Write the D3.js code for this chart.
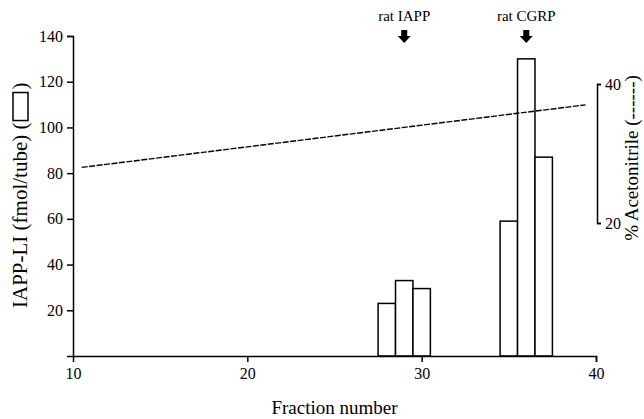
<!DOCTYPE html>
<html>
<head>
<meta charset="utf-8">
<script src="https://cdn.jsdelivr.net/npm/d3@7"></script>
<style>
	body {margin:0; background:#fff;}
	svg {display:block; font-family:"Liberation Serif","Times New Roman",serif;}
	.axis path, .axis line {stroke:#000; stroke-width:1.5;}
	.axis text {font-family:"Liberation Serif","Times New Roman",serif; font-size:16px; fill:#000;}
</style>
</head>
<body>
<div id="idChart"></div>
<script>
// fractions with measurable IAPP-LI, and the amount in each tube
var aFractions=[28,29,30,35,36,37];
var aIAPP=[23,33,29.5,59,130,87];

// acetonitrile gradient (fraction, %)
var aGradFraction=[10.5,39.4];
var aGradPercent=[28,37];

var aXTicks=[10,20,30,40];
var aYTicks=[20,40,60,80,100,120,140];
var aRightTicks=[20,40];

// standards marked with arrows
var aPeakNames=["rat IAPP","rat CGRP"];
var aPeakFractions=[29,36];

var iWidth=644;
var iHeight=419;

var mySvg=d3.select("#idChart").append("svg")
	.attr("width",iWidth)
	.attr("height",iHeight);

mySvg.append("rect")
	.attr("width",iWidth)
	.attr("height",iHeight)
	.attr("fill","#fff");

var xScale=d3.scaleLinear().domain([10,40]).range([73,596]);
var yScale=d3.scaleLinear().domain([0,140]).range([356,36]);
var yRight=d3.scaleLinear().domain([20,40]).range([223,84]);

// bars, one fraction wide
mySvg.append("g").selectAll(".IAPPBars")
	.data(aFractions)
	.enter()
	.append("rect")
		.attr("class","IAPPBars")
		.attr("x",function(d){return xScale(d-0.5);})
		.attr("width",function(d){return xScale(d+0.5)-xScale(d-0.5);})
		.attr("y",function(d,i){return yScale(aIAPP[i]);})
		.attr("height",function(d,i){return yScale(0)-yScale(aIAPP[i]);})
		.attr("fill","#fff")
		.attr("stroke","#000")
		.attr("stroke-width",1.5);

// acetonitrile gradient line
var myGradLine=d3.line()
	.x(function(d){return xScale(d);})
	.y(function(d,i){return yRight(aGradPercent[i]);});

mySvg.append("path")
	.datum(aGradFraction)
	.attr("d",myGradLine)
	.attr("fill","none")
	.attr("stroke","#000")
	.attr("stroke-width",1.4)
	.attr("stroke-dasharray","6,1.5");

// axes
var myXAxis=mySvg.append("g")
	.attr("class","axis")
	.attr("transform","translate(0,"+yScale(0)+")")
	.call(d3.axisBottom(xScale).tickValues(aXTicks).tickSizeOuter(0).tickSize(6).tickPadding(6));
myXAxis.selectAll(".tick").filter(function(d){return d==10;}).select("line").remove();

mySvg.append("g")
	.attr("class","axis")
	.attr("transform","translate("+xScale(10)+",0)")
	.call(d3.axisLeft(yScale).tickValues(aYTicks).tickSizeOuter(0).tickSize(6).tickPadding(4));

mySvg.append("g")
	.attr("class","axis")
	.attr("transform","translate(597,0)")
	.call(d3.axisRight(yRight).tickValues(aRightTicks).tickSizeInner(4).tickSizeOuter(4).tickPadding(4));

mySvg.selectAll(".axis").attr("font-family",null).attr("font-size",null);
mySvg.selectAll(".axis .domain").attr("fill","none");

// arrows and names of the standards
var myPeaks=mySvg.append("g").selectAll(".Peaks")
	.data(aPeakFractions)
	.enter()
	.append("g")
		.attr("class","Peaks")
		.attr("transform",function(d){return "translate("+xScale(d)+",0)";});

myPeaks.append("text")
	.text(function(d,i){return aPeakNames[i];})
	.attr("y",21)
	.attr("text-anchor","middle")
	.attr("font-size",15);

myPeaks.append("path")
	.attr("d","M-3,30H3V36H6.5L0,43L-6.5,36H-3Z")
	.attr("fill","#000");

// axis titles
mySvg.append("text")
	.text("Fraction number")
	.attr("x",(xScale(10)+xScale(40))/2)
	.attr("y",414)
	.attr("text-anchor","middle")
	.attr("font-size",19);

var myLeftTitle=mySvg.append("g")
	.attr("transform","translate(27,308) rotate(-90)");

var myLeftText=myLeftTitle.append("text")
	.text("IAPP-LI (fmol/tube) (")
	.attr("font-size",21);
var iTextLen=myLeftText.node().getComputedTextLength();

myLeftTitle.append("rect")
	.attr("x",iTextLen+2)
	.attr("y",-14)
	.attr("width",28)
	.attr("height",15)
	.attr("fill","none")
	.attr("stroke","#000")
	.attr("stroke-width",1.5);

myLeftTitle.append("text")
	.text(")")
	.attr("x",iTextLen+33)
	.attr("font-size",21);

mySvg.append("text")
	.text("% Acetonitrile (------)")
	.attr("transform","translate(638,158) rotate(-90)")
	.attr("text-anchor","middle")
	.attr("font-size",19);
</script>
</body>
</html>
